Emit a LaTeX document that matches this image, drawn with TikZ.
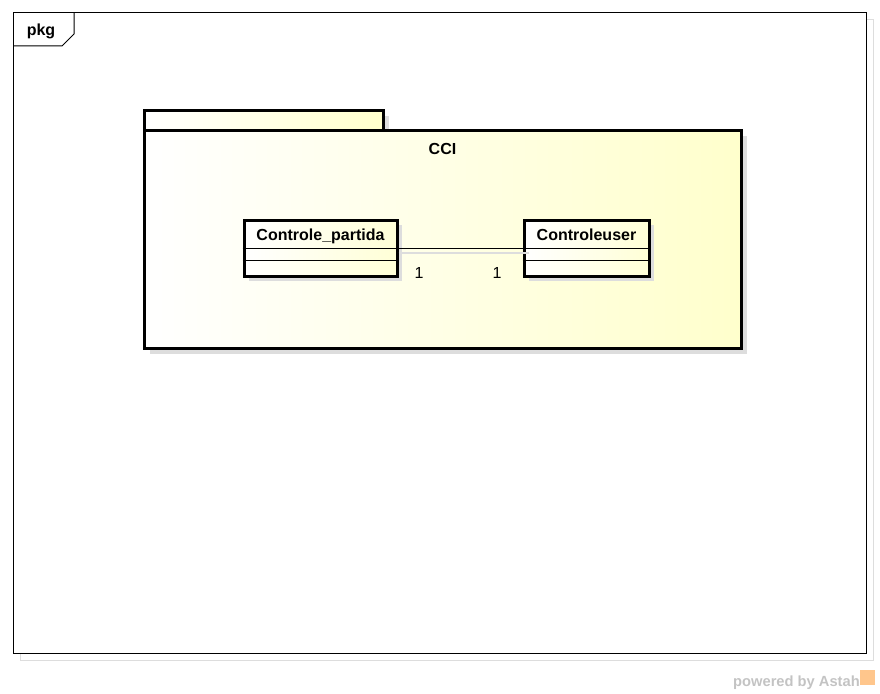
\documentclass[tikz,border=0pt]{standalone}
\usepackage{fontspec}
\setmainfont{Liberation Sans}
\usetikzlibrary{shadows}

\definecolor{pkgyellow}{RGB}{255,255,204}
\definecolor{shadegray}{RGB}{221,221,221}
\definecolor{markgray}{RGB}{195,195,195}

\begin{document}
\begin{tikzpicture}[x=1pt, y=-1pt,
        every node/.style={font=\fontsize{16}{18}\selectfont, inner sep=0pt},
        pkgbox/.style={draw, line width=3pt, left color=white, right color=pkgyellow,
            drop shadow={shadow xshift=6pt, shadow yshift=-6pt, fill=shadegray, opacity=1}},
        classbox/.style={draw, line width=3pt, left color=white, right color=pkgyellow!80!white,
            minimum height=56pt,
            drop shadow={shadow xshift=5pt, shadow yshift=-5pt, fill=shadegray, opacity=1}},
        classname/.style={font=\fontsize{16}{18}\selectfont\bfseries, anchor=base},
        mult/.style={font=\fontsize{16}{18}\selectfont, anchor=base}
      ]
      \useasboundingbox (0,0) rectangle (880,693);

      % diagram frame
      \draw[shadegray, line width=1pt] (20,20) rectangle (873,660);
      \draw[fill=white, line width=1pt] (13,13) rectangle (866,653);
      \draw[line width=1pt] (13,46) -- (62,46) -- (74,34) -- (74,13);
      \node[font=\fontsize{16}{18}\selectfont\bfseries, anchor=base] (frametitle) at (41,36) {pkg};

      % package CCI
      \node[pkgbox, minimum width=239pt, minimum height=20pt] (tab) at (263.5,120) {};
      \node[pkgbox, minimum width=597pt, minimum height=218pt] (cci) at (442.5,239) {};
      \node[font=\fontsize{16}{18}\selectfont\bfseries, anchor=base] (ccititle) at ([yshift=-26pt]cci.north) {CCI};

      % classes
      \node[classbox, minimum width=153pt] (cp) at (320.5,248) {};
      \node[classbox, minimum width=125pt] (cu) at (586.5,248) {};
      \node[classname] (cpname) at ([yshift=-22pt]cp.north) {Controle\_partida};
      \node[classname] (cuname) at ([yshift=-22pt]cu.north) {Controleuser};
      \foreach \c in {cp, cu} {
        \draw[line width=1pt] (\c.west) -- (\c.east);
        \draw[line width=1pt] ([yshift=-12pt]\c.west) -- ([yshift=-12pt]\c.east);
      }

      % association
      \draw[shadegray, line width=1.2pt] ([yshift=-5pt]cp.east) -- ([xshift=6pt, yshift=-5pt]cu.west);
      \draw[line width=1pt] (cp.east) -- (cu.west);
      \node[mult] (m1) at (419,278) {1};
      \node[mult] (m2) at (497,278) {1};

      % watermark
      \node[font=\fontsize{14.7}{16}\selectfont\bfseries, text=markgray, anchor=base east] (mark) at (860,686) {powered by Astah};
      \node[fill=orange!45, minimum width=15pt, minimum height=15pt, anchor=west] (logo) at ([yshift=5pt]mark.east) {};
\end{tikzpicture}
\end{document}
